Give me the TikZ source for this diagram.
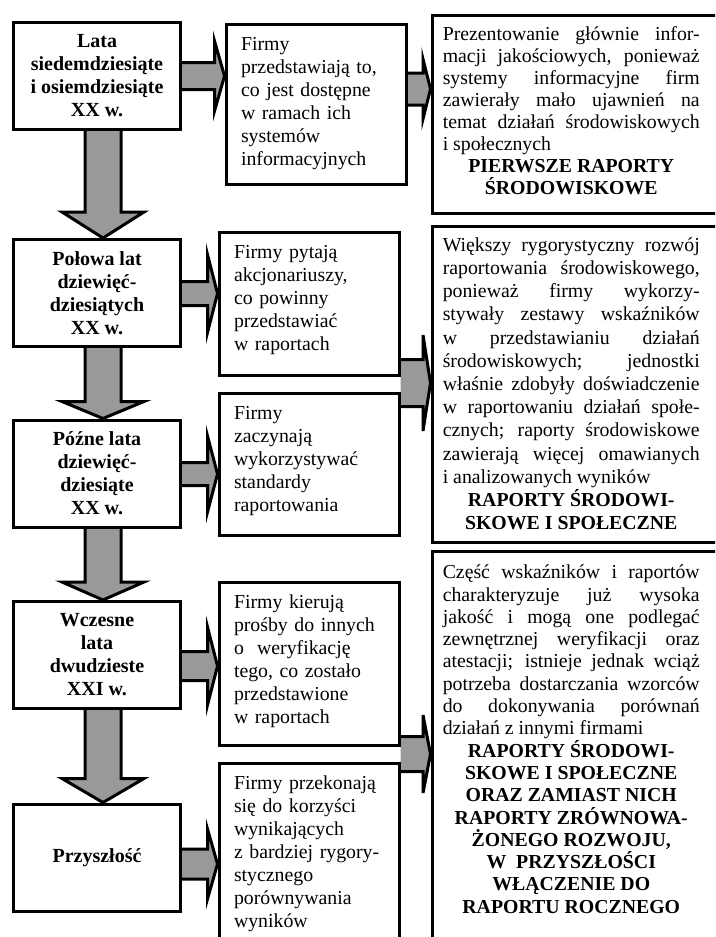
\documentclass[tikz,border=0pt]{standalone}
\usepackage{fontspec}
\setmainfont{Liberation Serif}
\usetikzlibrary{calc,backgrounds}
\lineskiplimit=-100pt
\tolerance=10000
\hyphenpenalty=10000

\newcommand{\lfont}{\fontsize{20}{23}\selectfont\bfseries}
\newcommand{\mfont}{\fontsize{19.8}{23}\selectfont}
\newcommand{\rfont}{\fontsize{19.8}{22}\selectfont}
\newcommand{\rpar}{\rightskip=40pt\relax}
\newcommand{\rhead}[1]{\par{\leftskip=0pt plus 1fil\rightskip=40pt plus 1fil\parfillskip=0pt\bfseries #1\par}}

% fat arrows: down from box to box, right from box to box
\newcommand{\fatdown}[3]{%
  \draw[fatarrow] let \p1=(#1.south), \p2=(#2.north) in
    (\x1-12pt,\y1) -- (\x1-12pt,\y2+#3pt) -- (\x1-35pt,\y2+#3pt) -- (\x1+6pt,\y2)
    -- (\x1+47pt,\y2+#3pt) -- (\x1+24pt,\y2+#3pt) -- (\x1+24pt,\y1);}
\newcommand{\fatright}[6]{%
  \draw[fatarrow] let \p1=(#1.east), \p2=(#2.west), \p3=(0,#3) in
    (\x1,\y3+#4pt) -- (\x2-#6pt,\y3+#4pt) -- (\x2-#6pt,\y3+#5pt) -- (\x2,\y3)
    -- (\x2-#6pt,\y3-#5pt) -- (\x2-#6pt,\y3-#4pt) -- (\x1,\y3-#4pt);}

\tikzset{
  fatarrow/.style={draw=black,fill=black!40,line width=3pt,line join=miter},
  lbox/.style={draw,line width=3pt,fill=white,minimum width=167pt,minimum height=107pt,
    inner sep=0pt,align=center,font=\lfont},
  mbox/.style={draw,line width=3pt,fill=white,anchor=north west,text width=150pt,
    inner xsep=15pt,inner ysep=0pt,align=left,text height=26pt,font=\mfont},
  rbox/.style={draw,line width=3.5pt,fill=white,anchor=north west,text width=297pt,
    inner xsep=10.5pt,inner ysep=0pt,align=justify,text height=25pt,font=\rfont}
}

\begin{document}
\begin{tikzpicture}[x=1pt,y=-1pt]
\useasboundingbox (0,0) rectangle (715,937);
\clip (0,0) rectangle (715,937);

% periods
\node[lbox] (l1) at (97,75.5) {Lata\\siedemdziesiąte\\i osiemdziesiąte\\XX w.};
\node[lbox] (l2) at (97,293) {Połowa lat\\dziewięć-\\dziesiątych\\XX w.};
\node[lbox] (l3) at (97,473.5) {Późne lata\\dziewięć-\\dziesiąte\\XX w.};
\node[lbox] (l4) at (97,655) {Wczesne\\lata\\dwudzieste\\XXI w.};
\node[lbox] (l5) at (97,857.5) {Przyszłość};

% what firms do
\node[mbox,text depth=134pt] (m1) at (224.5,22.5) {Firmy\\przedstawiają to,\\co jest dostępne\\w ramach ich\\systemów\\informacyjnych};
\node[mbox,text depth=117pt] (m2) at (217.5,230.5) {Firmy pytają\\akcjonariuszy,\\co powinny\\przedstawiać\\w raportach};
\node[mbox,text depth=116pt] (m3) at (217.5,391.5) {Firmy\\zaczynają\\wykorzystywać\\standardy\\raportowania};
\node[mbox,text depth=137pt] (m4) at (217.5,580.5) {Firmy kierują\\prośby do innych\\o~ weryfikację\\tego, co zostało\\przedstawione\\w raportach};
\node[mbox,text depth=250pt] (m5) at (217.5,761.5) {Firmy przekonają\\się do korzyści\\wynikających\\z bardziej rygory-\\stycznego\\porównywania\\wyników};

% reports
\node[rbox,text depth=173pt] (r1) at (430.5,13.5) {\rpar Prezentowanie głównie infor-\linebreak
  macji jakościowych, ponieważ\linebreak systemy informacyjne firm\linebreak
  zawierały mało ujawnień na\linebreak temat działań środowiskowych\linebreak i społecznych
  \rhead{PIERWSZE RAPORTY\par ŚRODOWISKOWE}};
\node[rbox,text depth=291pt,font=\fontsize{19.8}{23.2}\selectfont] (r2) at (430.5,224.5) {\rpar Większy rygorystyczny rozwój\linebreak
  raportowania środowiskowego,\linebreak ponieważ firmy wykorzy-\linebreak
  stywały zestawy wskaźników\linebreak w przedstawianiu działań\linebreak
  środowiskowych; jednostki\linebreak właśnie zdobyły doświadczenie\linebreak
  w raportowaniu działań społe-\linebreak cznych; raporty środowiskowe\linebreak
  zawierają więcej omawianych\linebreak i analizowanych wyników
  \rhead{RAPORTY ŚRODOWI-\par SKOWE I SPOŁECZNE}};
\node[rbox,text height=27.5pt,text depth=400pt,font=\fontsize{19.8}{22.3}\selectfont] (r3) at (430.5,549.5) {\rpar Część wskaźników i raportów\linebreak
  charakteryzuje już wysoka\linebreak jakość i mogą one podlegać\linebreak
  zewnętrznej weryfikacji oraz\linebreak atestacji; istnieje jednak wciąż\linebreak
  potrzeba dostarczania wzorców\linebreak do dokonywania porównań\linebreak
  działań z innymi firmami
  \rhead{RAPORTY ŚRODOWI-\par SKOWE I SPOŁECZNE\par ORAZ ZAMIAST NICH\par
  RAPORTY ZRÓWNOWA-\par ŻONEGO ROZWOJU,\par W~ PRZYSZŁOŚCI\par
  WŁĄCZENIE DO\par RAPORTU ROCZNEGO}};

\begin{scope}[on background layer]
\foreach \fa/\fb/\hl in {l1/l2/26,l2/l3/17,l3/l4/18,l4/l5/24}{\fatdown{\fa}{\fb}{\hl}}
\foreach \fa/\fb/\ay/\sh/\hw in {l1/m1/76/13.5/35,l2/m2/293.5/12/39,l3/m3/474/11.5/38,l4/m4/666/14.5/39,l5/m5/864/15/35}{
  \fatright{\fa}{\fb}{\ay}{\sh}{\hw}{10}}
\fatright{m1}{r1}{89}{16}{30}{7.5}
\fatright{m2}{r2}{383}{23.5}{48}{7.5}
\fatright{m4}{r3}{754}{17.5}{39}{7.5}
\end{scope}
\end{tikzpicture}
\end{document}
